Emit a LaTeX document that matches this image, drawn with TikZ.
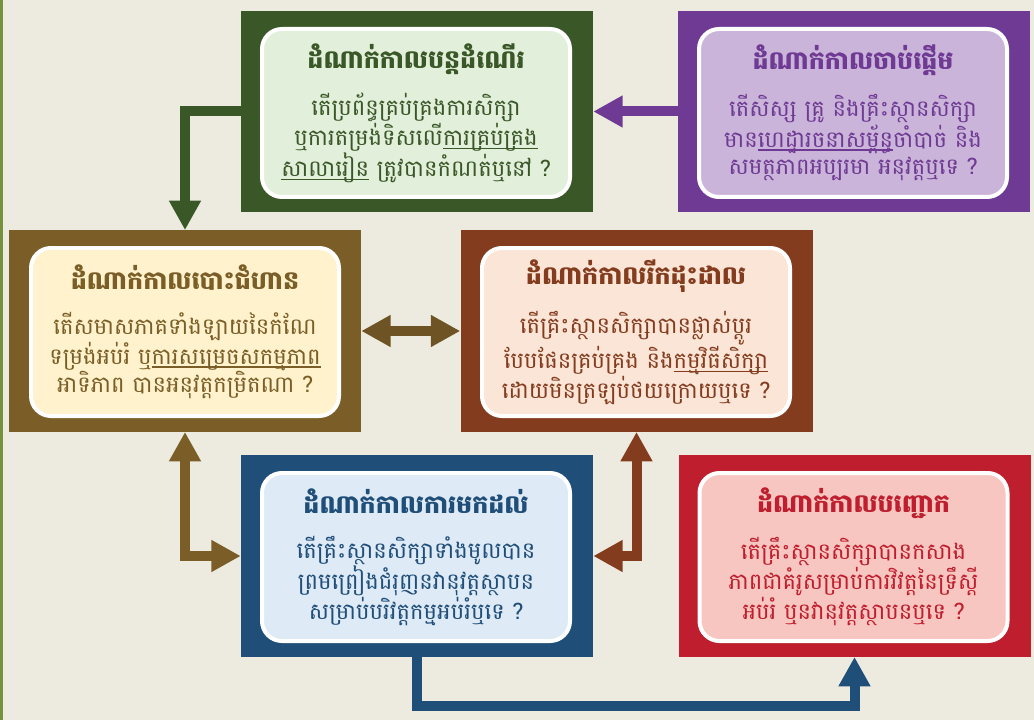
\documentclass[tikz,border=0pt]{standalone}
\usepackage{fontspec}
\newfontfamily\khmerfont[Script=Khmer]{Battambang}
\usetikzlibrary{arrows.meta}

\definecolor{bgpaper}{HTML}{EDEBE0}
\definecolor{edgegreen}{HTML}{76923C}
\definecolor{greenD}{HTML}{3A5728}
\definecolor{greenL}{HTML}{E2EFDA}
\definecolor{purpleD}{HTML}{6E3A93}
\definecolor{purpleL}{HTML}{CBB4DA}
\definecolor{brownD}{HTML}{7B5E27}
\definecolor{brownA}{HTML}{6E5424}
\definecolor{brownL}{HTML}{FFF2CC}
\definecolor{rustD}{HTML}{843C1F}
\definecolor{rustL}{HTML}{FBE5D6}
\definecolor{blueD}{HTML}{1F4E79}
\definecolor{blueL}{HTML}{DEEAF6}
\definecolor{redD}{HTML}{BE1E2D}
\definecolor{redL}{HTML}{F8C6C1}

\newcommand{\stagetitle}[1]{{\bfseries\fontsize{19}{24}\selectfont #1}}
\newcommand{\khline}[1]{\setbox0\hbox{#1}\rlap{\rule[-3pt]{\wd0}{1.3pt}}\box0\relax}

\tikzset{
  outerbox/.style={minimum width=264pt, minimum height=151pt, inner sep=0pt},
  innerbox/.style={draw=white, line width=3pt, rounded corners=15pt,
    minimum width=231pt, minimum height=126pt, inner sep=0pt, align=center,
    font=\khmerfont\fontsize{17}{20.6}\selectfont},
  flow/.style={line width=7.5pt, -{Triangle[width=22.5pt,length=22pt]}},
  flowtwo/.style={line width=7.5pt, {Triangle[width=22.5pt,length=22pt]}-{Triangle[width=22.5pt,length=22pt]}}
}

\begin{document}
\begin{tikzpicture}[x=0.75pt, y=-0.75pt]
  % paper
  \fill[bgpaper] (0,0) rectangle (1034,720);
  \fill[edgegreen] (0,0) rectangle (2.5,720);

  % stage boxes
  \node[outerbox, fill=greenD] (contOuter) at (417,111.5) {};
  \node[innerbox, fill=greenL, text=greenD] (contText) at (416,113) {
    \stagetitle{ដំណាក់កាលបន្តដំណើរ}\\[13pt]
    តើប្រព័ន្ធគ្រប់គ្រងការសិក្សា\\
    ឬការតម្រង់ទិសលើ\khline{ការគ្រប់គ្រង}\\
    \khline{សាលារៀន} ត្រូវបានកំណត់ឬនៅ ?
  };

  \node[outerbox, fill=purpleD] (startOuter) at (854,111.5) {};
  \node[innerbox, fill=purpleL, text=purpleD] (startText) at (853,113) {
    \stagetitle{ដំណាក់កាលចាប់ផ្តើម}\\[13pt]
    តើសិស្ស គ្រូ និងគ្រឹះស្ថានសិក្សា\\
    មាន\khline{ហេដ្ឋារចនាសម្ព័ន្ធ}ចាំបាច់ និង\\
    សមត្ថភាពអប្បរមា អនុវត្តឬទេ ?
  };

  \node[outerbox, fill=brownD] (stepOuter) at (185,331) {};
  \node[innerbox, fill=brownL, text=brownD] (stepText) at (185,332) {
    \stagetitle{ដំណាក់កាលបោះជំហាន}\\[13pt]
    តើសមាសភាគទាំងឡាយនៃកំណែ\\
    ទម្រង់អប់រំ ឬ\khline{ការសម្រេចសកម្មភាព}\\
    អាទិភាព បានអនុវត្តកម្រិតណា ?
  };

  \node[outerbox, fill=rustD] (growOuter) at (636.5,331) {};
  \node[innerbox, fill=rustL, text=rustD] (growText) at (636,332) {
    \stagetitle{ដំណាក់កាលរីកដុះដាល}\\[13pt]
    តើគ្រឹះស្ថានសិក្សាបានផ្លាស់ប្តូរ\\
    បែបផែនគ្រប់គ្រង និង\khline{កម្មវិធីសិក្សា}\\
    ដោយមិនត្រឡប់ថយក្រោយឬទេ ?
  };

  \node[outerbox, fill=blueD] (arriveOuter) at (417,556) {};
  \node[innerbox, fill=blueL, text=blueD] (arriveText) at (416,557) {
    \stagetitle{ដំណាក់កាលការមកដល់}\\[13pt]
    តើគ្រឹះស្ថានសិក្សាទាំងមូលបាន\\
    ព្រមព្រៀងជំរុញនវានុវត្តស្ថាបន\\
    សម្រាប់បរិវត្តកម្មអប់រំឬទេ ?
  };

  \node[outerbox, fill=redD] (rootOuter) at (854.5,556) {};
  \node[innerbox, fill=redL, text=redD] (rootText) at (853.5,557) {
    \stagetitle{ដំណាក់កាលបញ្ជោក}\\[13pt]
    តើគ្រឹះស្ថានសិក្សាបានកសាង\\
    ភាពជាគំរូសម្រាប់ការវិវត្តនៃទ្រឹស្តី\\
    អប់រំ ឬនវានុវត្តស្ថាបនឬទេ ?
  };

  % connectors
  \draw[flow, purpleD] (startOuter.west) -- (contOuter.east);
  \draw[flow, greenD] (contOuter.west) -| (stepOuter.north);
  \draw[flowtwo, brownA] (stepOuter.east) -- (growOuter.west);
  \draw[flowtwo, brownD] (stepOuter.south) |- (arriveOuter.west);
  \draw[flowtwo, rustD] (growOuter.south) |- (arriveOuter.east);
  \draw[flow, blueD] (arriveOuter.south) -- ++(0,49) -| (rootOuter.south);
\end{tikzpicture}
\end{document}
